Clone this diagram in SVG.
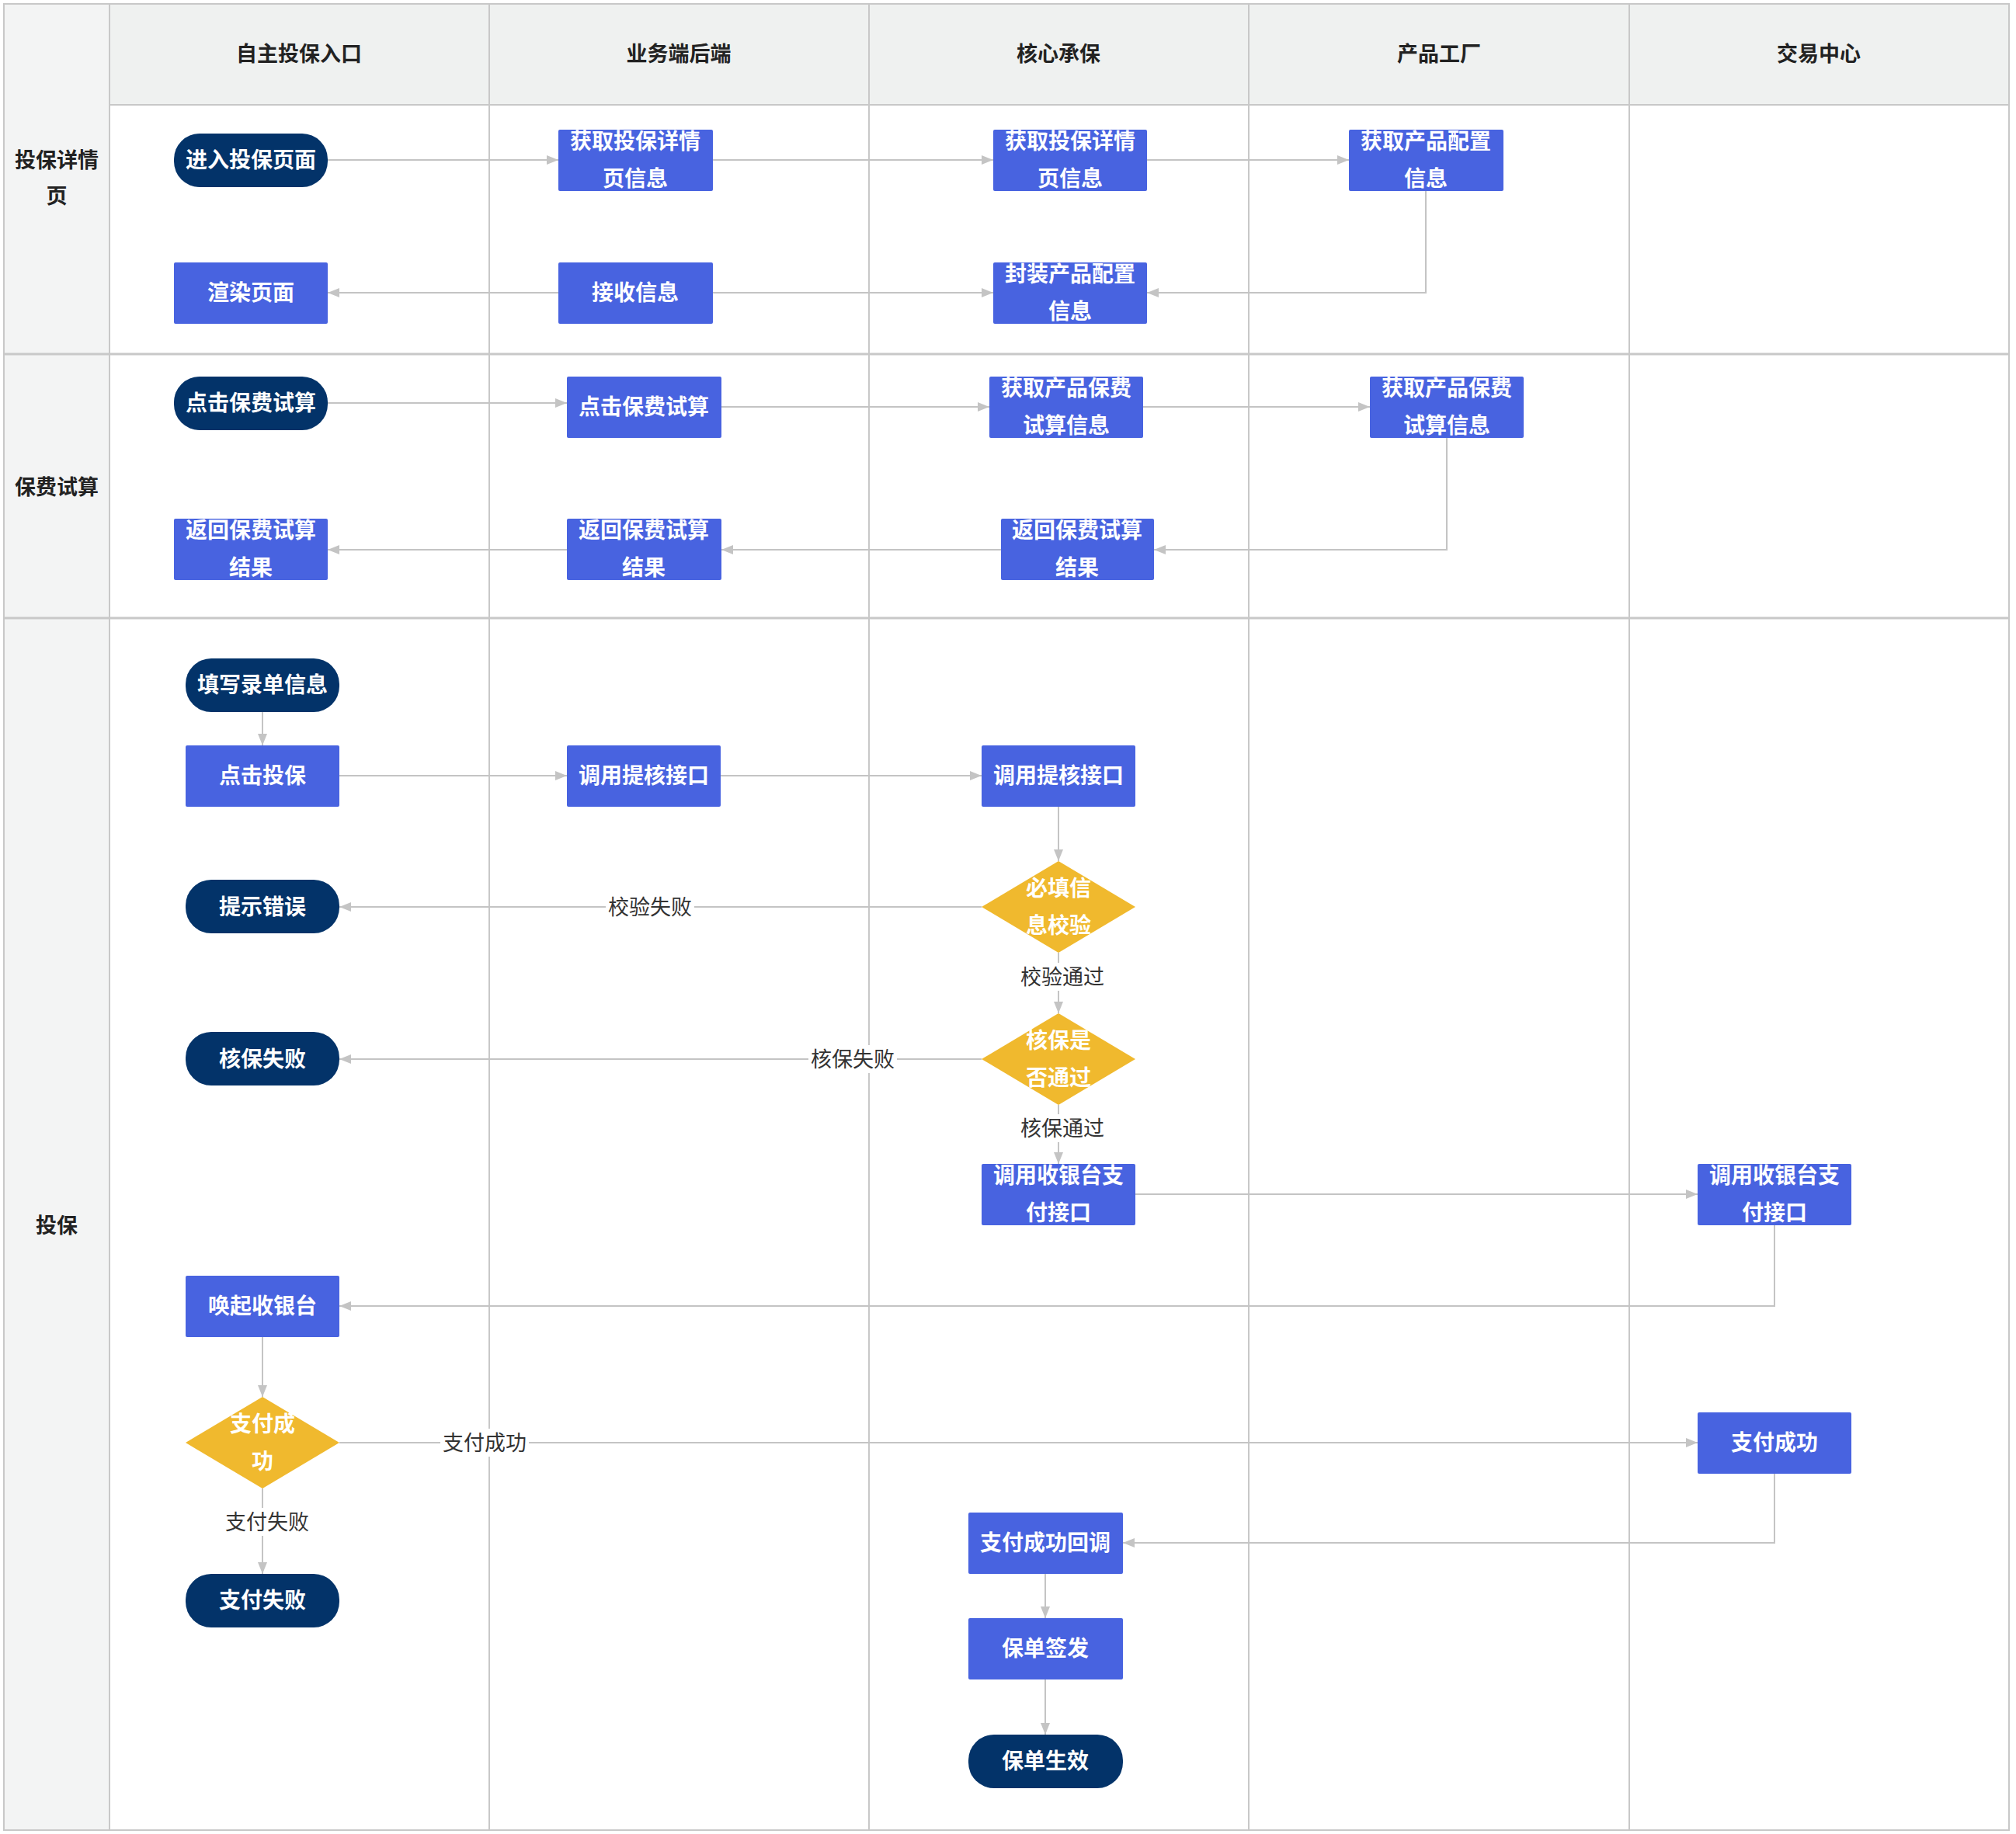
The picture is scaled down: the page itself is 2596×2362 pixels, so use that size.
<svg xmlns="http://www.w3.org/2000/svg" width="2596" height="2362" viewBox="0 0 2596 2362">
<defs>
<marker id="arr" markerUnits="userSpaceOnUse" markerWidth="15" markerHeight="12" viewBox="0 0 15 12" refX="15" refY="6" orient="auto">
<path d="M0,0 L15,6 L0,12 z" fill="#c4c4c4"/>
</marker>
</defs>
<style>
.lanebg{fill:#f3f4f4}
.hdrbg{fill:#eff1f0}
.grid{stroke:#c8c8c8;stroke-width:2;fill:none}
.rowl{stroke:#c8c8c8;stroke-width:3;fill:none}
.proc{fill:#4863e0}
.term{fill:#033369}
.dec{fill:#f0b92e}
.nt{font-family:"Noto Sans CJK SC","Noto Sans",sans-serif;font-size:28px;font-weight:700;fill:#ffffff;text-anchor:middle;dominant-baseline:central}
.ht{font-family:"Noto Sans CJK SC","Noto Sans",sans-serif;font-size:27px;font-weight:700;fill:#222222;text-anchor:middle;dominant-baseline:central}
.edge{stroke:#c4c4c4;stroke-width:2;fill:none;marker-end:url(#arr)}
.lbl{font-family:"Noto Sans CJK SC","Noto Sans",sans-serif;font-size:27px;font-weight:400;fill:#333333;text-anchor:middle;dominant-baseline:central}
.lblbg{fill:#ffffff}
</style>
<rect width="2596" height="2362" fill="#ffffff"/>
<g id="swimlanes">
<rect class="lanebg" x="5" y="5" width="136" height="2352"/>
<rect class="hdrbg" x="141" y="5" width="2446" height="130"/>
<rect class="grid" x="5" y="5" width="2582" height="2352"/>
<line class="grid" x1="141" y1="5" x2="141" y2="2357"/>
<line class="grid" x1="630" y1="5" x2="630" y2="2357"/>
<line class="grid" x1="1119" y1="5" x2="1119" y2="2357"/>
<line class="grid" x1="1608" y1="5" x2="1608" y2="2357"/>
<line class="grid" x1="2098" y1="5" x2="2098" y2="2357"/>
<line class="grid" x1="141" y1="135" x2="2587" y2="135"/>
<line class="rowl" x1="5" y1="456" x2="2587" y2="456"/>
<line class="rowl" x1="5" y1="796" x2="2587" y2="796"/>
<text class="ht" x="385" y="67">自主投保入口</text>
<text class="ht" x="874" y="67">业务端后端</text>
<text class="ht" x="1363" y="67">核心承保</text>
<text class="ht" x="1853" y="67">产品工厂</text>
<text class="ht" x="2342" y="67">交易中心</text>
<text class="ht" x="73" y="204">投保详情</text>
<text class="ht" x="73" y="250">页</text>
<text class="ht" x="73" y="625">保费试算</text>
<text class="ht" x="73" y="1576">投保</text>
</g>
<g id="connectors">
<path class="edge" d="M422,206 H719"/>
<path class="edge" d="M918,206 H1279"/>
<path class="edge" d="M1477,206 H1737"/>
<path class="edge" d="M1836,246 V377 H1477"/>
<path class="edge" d="M719,377 H422"/>
<path class="edge" d="M918,377 H1279"/>
<path class="edge" d="M422,519 H730"/>
<path class="edge" d="M929,524 H1274"/>
<path class="edge" d="M1472,524 H1764"/>
<path class="edge" d="M1863,564 V708 H1486"/>
<path class="edge" d="M1289,708 H929"/>
<path class="edge" d="M730,708 H422"/>
<path class="edge" d="M338,917 V960"/>
<path class="edge" d="M437,999 H730"/>
<path class="edge" d="M928,999 H1264"/>
<path class="edge" d="M1363,1039 V1109"/>
<path class="edge" d="M1264,1168 H437"/>
<path class="edge" d="M1363,1227 V1305"/>
<path class="edge" d="M1264,1364 H437"/>
<path class="edge" d="M1363,1423 V1499"/>
<path class="edge" d="M1462,1538 H2186"/>
<path class="edge" d="M2285,1577 V1682 H437"/>
<path class="edge" d="M338,1722 V1799"/>
<path class="edge" d="M437,1858 H2186"/>
<path class="edge" d="M338,1917 V2027"/>
<path class="edge" d="M2285,1897 V1987 H1446"/>
<path class="edge" d="M1346,2027 V2084"/>
<path class="edge" d="M1346,2163 V2234"/>
<rect class="lblbg" x="780" y="1150" width="114" height="36"/>
<text class="lbl" x="837" y="1166">校验失败</text>
<rect class="lblbg" x="1310" y="1240" width="114" height="36"/>
<text class="lbl" x="1368" y="1256">校验通过</text>
<rect class="lblbg" x="1041" y="1346" width="114" height="36"/>
<text class="lbl" x="1098" y="1362">核保失败</text>
<rect class="lblbg" x="1310" y="1435" width="114" height="36"/>
<text class="lbl" x="1368" y="1451">核保通过</text>
<rect class="lblbg" x="567" y="1840" width="114" height="36"/>
<text class="lbl" x="624" y="1856">支付成功</text>
<rect class="lblbg" x="287" y="1942" width="114" height="36"/>
<text class="lbl" x="344" y="1958">支付失败</text>
</g>
<g id="n1"><rect class="term" x="224" y="172" width="198" height="69" rx="33"/><text class="nt" x="323" y="204">进入投保页面</text></g>
<g id="n2"><rect class="proc" x="719" y="167" width="199" height="79" rx="2"/><text class="nt" x="818" y="180">获取投保详情</text><text class="nt" x="818" y="228">页信息</text></g>
<g id="n3"><rect class="proc" x="1279" y="167" width="198" height="79" rx="2"/><text class="nt" x="1378" y="180">获取投保详情</text><text class="nt" x="1378" y="228">页信息</text></g>
<g id="n4"><rect class="proc" x="1737" y="167" width="199" height="79" rx="2"/><text class="nt" x="1836" y="180">获取产品配置</text><text class="nt" x="1836" y="228">信息</text></g>
<g id="n5"><rect class="proc" x="224" y="338" width="198" height="79" rx="2"/><text class="nt" x="323" y="375">渲染页面</text></g>
<g id="n6"><rect class="proc" x="719" y="338" width="199" height="79" rx="2"/><text class="nt" x="818" y="375">接收信息</text></g>
<g id="n7"><rect class="proc" x="1279" y="338" width="198" height="79" rx="2"/><text class="nt" x="1378" y="351">封装产品配置</text><text class="nt" x="1378" y="399">信息</text></g>
<g id="n8"><rect class="term" x="224" y="485" width="198" height="69" rx="33"/><text class="nt" x="323" y="517">点击保费试算</text></g>
<g id="n9"><rect class="proc" x="730" y="485" width="199" height="79" rx="2"/><text class="nt" x="829" y="522">点击保费试算</text></g>
<g id="n10"><rect class="proc" x="1274" y="485" width="198" height="79" rx="2"/><text class="nt" x="1373" y="498">获取产品保费</text><text class="nt" x="1373" y="546">试算信息</text></g>
<g id="n11"><rect class="proc" x="1764" y="485" width="198" height="79" rx="2"/><text class="nt" x="1863" y="498">获取产品保费</text><text class="nt" x="1863" y="546">试算信息</text></g>
<g id="n12"><rect class="proc" x="224" y="668" width="198" height="79" rx="2"/><text class="nt" x="323" y="681">返回保费试算</text><text class="nt" x="323" y="729">结果</text></g>
<g id="n13"><rect class="proc" x="730" y="668" width="199" height="79" rx="2"/><text class="nt" x="829" y="681">返回保费试算</text><text class="nt" x="829" y="729">结果</text></g>
<g id="n14"><rect class="proc" x="1289" y="668" width="197" height="79" rx="2"/><text class="nt" x="1387" y="681">返回保费试算</text><text class="nt" x="1387" y="729">结果</text></g>
<g id="n15"><rect class="term" x="239" y="848" width="198" height="69" rx="33"/><text class="nt" x="338" y="880">填写录单信息</text></g>
<g id="n16"><rect class="proc" x="239" y="960" width="198" height="79" rx="2"/><text class="nt" x="338" y="997">点击投保</text></g>
<g id="n17"><rect class="proc" x="730" y="960" width="198" height="79" rx="2"/><text class="nt" x="829" y="997">调用提核接口</text></g>
<g id="n18"><rect class="proc" x="1264" y="960" width="198" height="79" rx="2"/><text class="nt" x="1363" y="997">调用提核接口</text></g>
<g id="n19"><polygon class="dec" points="1363,1109 1462,1168 1363,1227 1264,1168"/><text class="nt" x="1363" y="1142">必填信</text><text class="nt" x="1363" y="1190">息校验</text></g>
<g id="n20"><rect class="term" x="239" y="1133" width="198" height="69" rx="33"/><text class="nt" x="338" y="1166">提示错误</text></g>
<g id="n21"><polygon class="dec" points="1363,1305 1462,1364 1363,1423 1264,1364"/><text class="nt" x="1363" y="1338">核保是</text><text class="nt" x="1363" y="1386">否通过</text></g>
<g id="n22"><rect class="term" x="239" y="1329" width="198" height="69" rx="33"/><text class="nt" x="338" y="1362">核保失败</text></g>
<g id="n23"><rect class="proc" x="1264" y="1499" width="198" height="79" rx="2"/><text class="nt" x="1363" y="1512">调用收银台支</text><text class="nt" x="1363" y="1560">付接口</text></g>
<g id="n24"><rect class="proc" x="2186" y="1499" width="198" height="79" rx="2"/><text class="nt" x="2285" y="1512">调用收银台支</text><text class="nt" x="2285" y="1560">付接口</text></g>
<g id="n25"><rect class="proc" x="239" y="1643" width="198" height="79" rx="2"/><text class="nt" x="338" y="1680">唤起收银台</text></g>
<g id="n26"><polygon class="dec" points="338,1799 437,1858 338,1917 239,1858"/><text class="nt" x="338" y="1832">支付成</text><text class="nt" x="338" y="1880">功</text></g>
<g id="n27"><rect class="proc" x="2186" y="1819" width="198" height="79" rx="2"/><text class="nt" x="2285" y="1856">支付成功</text></g>
<g id="n28"><rect class="term" x="239" y="2027" width="198" height="69" rx="33"/><text class="nt" x="338" y="2059">支付失败</text></g>
<g id="n29"><rect class="proc" x="1247" y="1948" width="199" height="79" rx="2"/><text class="nt" x="1346" y="1985">支付成功回调</text></g>
<g id="n30"><rect class="proc" x="1247" y="2084" width="199" height="79" rx="2"/><text class="nt" x="1346" y="2121">保单签发</text></g>
<g id="n31"><rect class="term" x="1247" y="2234" width="199" height="69" rx="33"/><text class="nt" x="1346" y="2266">保单生效</text></g>
</svg>
